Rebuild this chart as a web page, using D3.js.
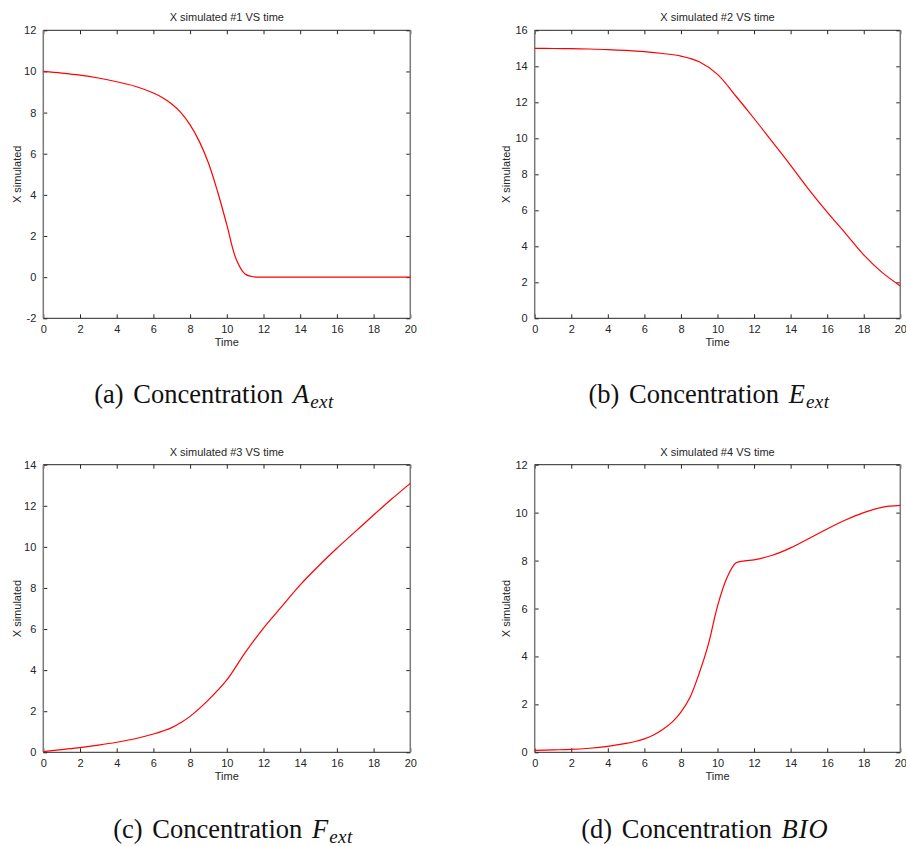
<!DOCTYPE html>
<html><head><meta charset="utf-8">
<script src="https://cdn.jsdelivr.net/npm/d3@7"></script>
<style>
body{margin:0;background:#fff;}
svg{display:block;}
</style></head>
<body>
<svg id="chart" width="906" height="846"></svg>
<script>
// ---- data ----
const xTicks = [0,2,4,6,8,10,12,14,16,18,20];

const timeA = [0,1,2,3,4,5,6,6.5,7,7.5,8,8.5,9,9.5,10,10.5,11,11.5,12,13,14,15,16,17,18,19,20];
const valA  = [10.0,9.92,9.82,9.68,9.5,9.28,8.95,8.72,8.42,8.0,7.4,6.6,5.55,4.15,2.55,0.9,0.15,0.01,0,0,0,0,0,0,0,0,0];

const timeE = [0,1,2,3,4,5,6,7,8,9,10,11,12,13,14,15,16,17,18,19,20];
const valE  = [15.0,14.99,14.98,14.96,14.93,14.88,14.81,14.71,14.57,14.25,13.55,12.35,11.1,9.8,8.5,7.15,5.9,4.72,3.52,2.55,1.8];

const timeF = [0,1,2,3,4,5,6,6.5,7,7.5,8,9,10,11,12,13,14,15,16,17,18,19,20];
const valF  = [0.03,0.13,0.23,0.35,0.49,0.66,0.89,1.03,1.2,1.45,1.75,2.55,3.52,4.85,6.05,7.1,8.15,9.07,9.93,10.74,11.55,12.34,13.09];

const timeB = [0,1,2,3,4,5,5.5,6,6.5,7,7.5,8,8.5,9,9.5,10,10.5,11,11.5,12,13,14,15,16,17,18,19,20];
const valB  = [0.08,0.1,0.12,0.17,0.25,0.37,0.45,0.56,0.72,0.95,1.25,1.68,2.3,3.3,4.5,6.1,7.25,7.9,7.99,8.03,8.22,8.53,8.92,9.32,9.69,10.0,10.22,10.3];

const titles   = ["X simulated #1 VS time","X simulated #2 VS time","X simulated #3 VS time","X simulated #4 VS time"];
const yDomains = [[-2,12],[0,16],[0,14],[0,12]];
const yTickSets = [[-2,0,2,4,6,8,10,12],[0,2,4,6,8,10,12,14,16],[0,2,4,6,8,10,12,14],[0,2,4,6,8,10,12]];
const captionLabels = ["(a)","(b)","(c)","(d)"];
const captionMath   = [["A","ext"],["E","ext"],["F","ext"],["BIO",""]];

// ---- layout ----
const panels = [
  {x0:43.3, x1:410.3, y0:30.3, y1:318.3, ylabX:17,  capX:214, capY:403, t:timeA, v:valA},
  {x0:534.7,x1:900.3, y0:30.3, y1:318.3, ylabX:506, capX:709, capY:403, t:timeE, v:valE},
  {x0:43.3, x1:410.3, y0:464.7,y1:752.3, ylabX:17,  capX:233, capY:838, t:timeF, v:valF},
  {x0:534.7,x1:900.3, y0:464.7,y1:752.3, ylabX:506, capX:705, capY:838, t:timeB, v:valB}
];

const svg = d3.select("#chart");
const font = "'Liberation Sans', Arial, sans-serif";
const txtCol = "#262626";
const fmt = d => String(d);

panels.forEach((p,i)=>{
  const x = d3.scaleLinear().domain([0,20]).range([p.x0,p.x1]);
  const y = d3.scaleLinear().domain(yDomains[i]).range([p.y1,p.y0]);
  const g = svg.append("g");

  const axB = d3.axisBottom(x).tickValues(xTicks).tickSize(-4).tickPadding(7).tickFormat(fmt);
  const axT = d3.axisTop(x).tickValues(xTicks).tickSize(-4).tickFormat("");
  const axL = d3.axisLeft(y).tickValues(yTickSets[i]).tickSize(-4).tickPadding(7).tickFormat(fmt);
  const axR = d3.axisRight(y).tickValues(yTickSets[i]).tickSize(-4).tickFormat("");

  const gb = g.append("g").attr("transform",`translate(0,${p.y1})`).call(axB);
  const gt = g.append("g").attr("transform",`translate(0,${p.y0})`).call(axT);
  const gl = g.append("g").attr("transform",`translate(${p.x0},0)`).call(axL);
  const gr = g.append("g").attr("transform",`translate(${p.x1},0)`).call(axR);
  [gb,gt,gl,gr].forEach(a=>{
    a.select(".domain").remove();
    a.selectAll(".tick line").attr("stroke","#262626").attr("stroke-width",1);
    a.selectAll("text").attr("font-family",font).attr("font-size",11).attr("fill",txtCol);
  });

  g.append("line").attr("x1",p.x0).attr("x2",p.x1).attr("y1",p.y0).attr("y2",p.y0).attr("stroke","#262626");
  g.append("line").attr("x1",p.x0).attr("x2",p.x1).attr("y1",p.y1).attr("y2",p.y1).attr("stroke","#262626");
  g.append("line").attr("x1",p.x0).attr("x2",p.x0).attr("y1",p.y0).attr("y2",p.y1).attr("stroke","#7a7a7a").attr("stroke-width",1.5);
  g.append("line").attr("x1",p.x1).attr("x2",p.x1).attr("y1",p.y0).attr("y2",p.y1).attr("stroke","#7a7a7a").attr("stroke-width",1.5);

  const pts = p.t.map((t,k)=>[t,p.v[k]]);
  const line = d3.line().x(d=>x(d[0])).y(d=>y(d[1])).curve(d3.curveCatmullRom.alpha(0.5));
  g.append("path").datum(pts).attr("d",line).attr("fill","none").attr("stroke","#ff0000").attr("stroke-width",1.2);

  g.append("text").attr("x",(p.x0+p.x1)/2).attr("y",p.y0-9).attr("text-anchor","middle")
    .attr("font-family",font).attr("font-size",11).attr("fill",txtCol).text(titles[i]);
  g.append("text").attr("x",(p.x0+p.x1)/2).attr("y",p.y1+28).attr("text-anchor","middle")
    .attr("font-family",font).attr("font-size",11).attr("fill",txtCol).text("Time");
  g.append("text").attr("transform",`translate(${p.ylabX+4},${(p.y0+p.y1)/2}) rotate(-90)`).attr("text-anchor","middle")
    .attr("font-family",font).attr("font-size",11).attr("fill",txtCol).text("X  simulated");

  const cap = svg.append("text").attr("x",p.capX).attr("y",p.capY).attr("text-anchor","middle")
    .attr("font-family","'Liberation Serif', 'Times New Roman', serif").attr("font-size",26.5)
    .attr("word-spacing",3).attr("fill","#111");
  cap.append("tspan").text(captionLabels[i]+" Concentration ");
  cap.append("tspan").attr("font-style","italic").attr("letter-spacing",1).text(captionMath[i][0]);
  if (captionMath[i][1]) {
    cap.append("tspan").attr("font-style","italic").attr("font-size",19).attr("letter-spacing",0.5).attr("dy",5).text(captionMath[i][1]);
  }
});
</script>
</body></html>
